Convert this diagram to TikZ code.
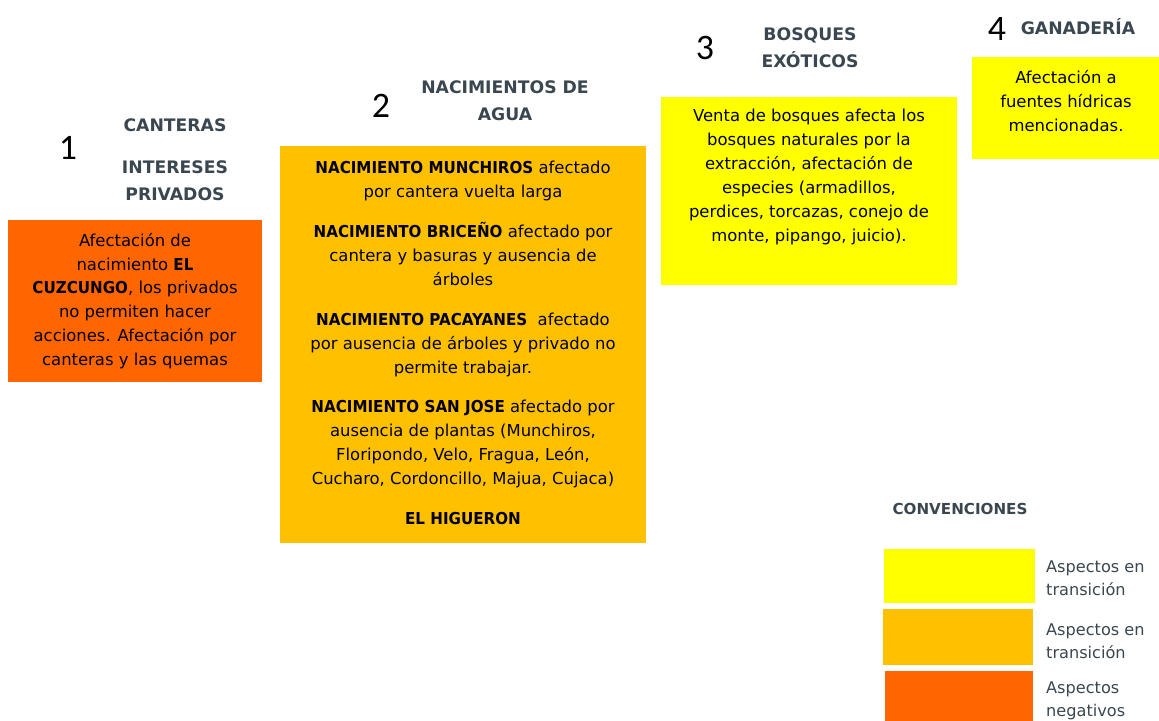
\documentclass[tikz,border=0pt]{standalone}
\usepackage{fontspec}
\setmainfont{DejaVu Sans}
\newfontfamily\numfont{Carlito}
\newfontfamily\cbold{DejaVu Sans Bold}[FakeStretch=0.92]
\newcommand{\bb}[1]{{\cbold #1}}
\definecolor{cNeg}{HTML}{FF6600}
\definecolor{cMid}{HTML}{FFC000}
\definecolor{cYel}{HTML}{FFFF00}
\definecolor{cHead}{HTML}{3A4750}
\tikzset{
  box/.style={draw=none, inner sep=0pt, outer sep=0pt},
  body/.style={align=center, text=black, inner sep=0pt, font=\fontsize{16.5}{24}\selectfont},
  head/.style={align=center, text=cHead, inner sep=0pt, font=\fontsize{17.3}{27}\selectfont\bfseries},
  num/.style={inner sep=0pt, text=black, font=\fontsize{36}{36}\selectfont\numfont},
  legtext/.style={align=left, anchor=west, text=cHead, inner sep=0pt, font=\fontsize{16.2}{23}\selectfont},
}
\begin{document}
\begin{tikzpicture}[x=1bp,y=-1bp]
\useasboundingbox (0,0) rectangle (1159,721);
% boxes
\fill[cNeg] (8,220) rectangle (262,382);
\node[box] (b1) at (135,301) {};
\fill[cMid] (280,146) rectangle (646,543);
\node[box] (b2) at (463,344) {};
\fill[cYel] (661,97) rectangle (957,285);
\node[box] (b3) at (809,191) {};
\fill[cYel] (972,57) rectangle (1159,159);
\node[box] (b4) at (1066,108) {};
% numbers
\node[num] (n1) at (68,148) {1};
\node[num] (n2) at (381,106) {2};
\node[num] (n3) at (705,48) {3};
\node[num] (n4) at (997,29) {4};
% headings
\node[head] (h1a) at (175,125) {CANTERAS};
\node[head] (h1b) at (175,181) {INTERESES\\PRIVADOS};
\node[head] (h2) at (505,101) {NACIMIENTOS DE\\AGUA};
\node[head] (h3) at (810,48) {BOSQUES\\EXÓTICOS};
\node[head] (h4) at (1078,27) {GANADERÍA};
\node[head, font=\fontsize{15.2}{20}\selectfont\bfseries] (hc) at (960,509) {CONVENCIONES};
% body texts
\node[body] (t1) at (135,301) {Afectación de\\nacimiento \bb{EL}\\\bb{CUZCUNGO}, los privados\\no permiten hacer\\acciones. Afectación por\\canteras y las quemas};
\node[body] (t2) at (463,343) {\bb{NACIMIENTO MUNCHIROS} afectado\\por cantera vuelta larga\\[16bp]
\bb{NACIMIENTO BRICEÑO} afectado por\\cantera y basuras y ausencia de\\árboles\\[16bp]
\bb{NACIMIENTO PACAYANES}\ \ afectado\\por ausencia de árboles y privado no\\permite trabajar.\\[16bp]
\bb{NACIMIENTO SAN JOSE} afectado por\\ausencia de plantas (Munchiros,\\Floripondo, Velo, Fragua, León,\\Cucharo, Cordoncillo, Majua, Cujaca)\\[16bp]
\bb{EL HIGUERON}};
\node[body] (t3) at (809,177) {Venta de bosques afecta los\\bosques naturales por la\\extracción, afectación de\\especies (armadillos,\\perdices, torcazas, conejo de\\monte, pipango, juicio).};
\node[body] (t4) at (1066,101) {Afectación a\\fuentes hídricas\\mencionadas.};
% legend
\fill[cYel] (884,549) rectangle (1035,603);
\node[box] (l1) at (959.5,576) {};
\fill[cMid] (883,609) rectangle (1033,665);
\node[box] (l2) at (958,637) {};
\fill[cNeg] (885,671) rectangle (1033,721);
\node[box] (l3) at (959,696) {};
\node[legtext] (lt1) at (1046,578.5) {Aspectos en\\transición};
\node[legtext] (lt2) at (1046,641.5) {Aspectos en\\transición};
\node[legtext] (lt3) at (1046,701) {Aspectos\\negativos};
\end{tikzpicture}
\end{document}
